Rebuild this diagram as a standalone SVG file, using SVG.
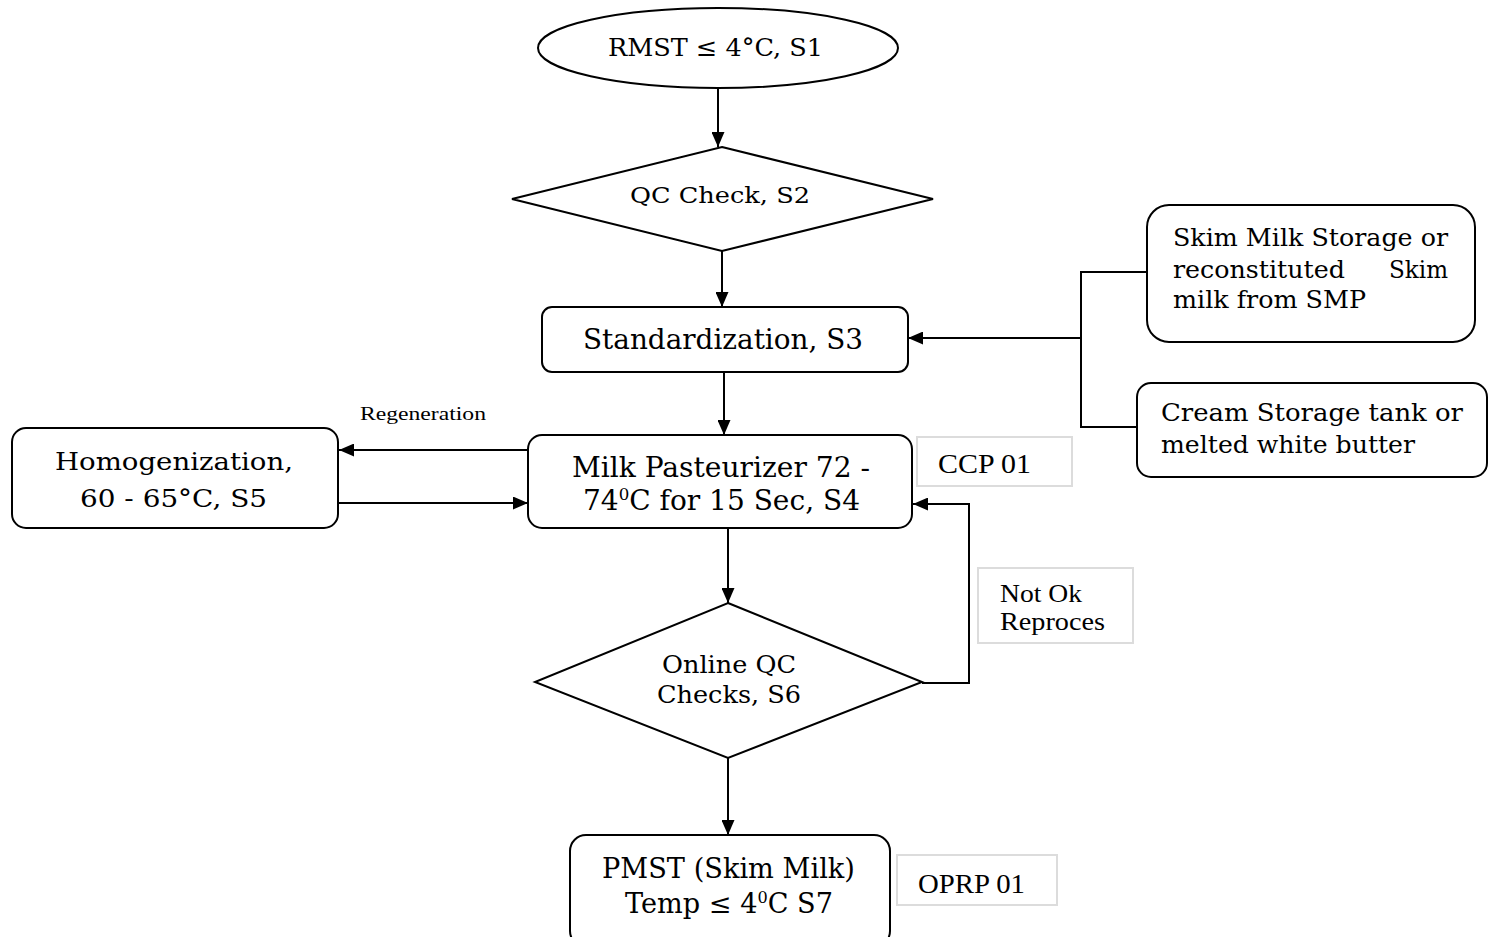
<svg xmlns="http://www.w3.org/2000/svg" width="1493" height="937" viewBox="0 0 1493 937">
<defs>
<marker id="ah" markerWidth="15" markerHeight="13" refX="15" refY="6.5" orient="auto" markerUnits="userSpaceOnUse" viewBox="0 0 15 13">
<path d="M0,0 L15,6.5 L0,13 Z" fill="#000"/>
</marker>
<style>
.n{fill:#fff;stroke:#000;stroke-width:2}
.g{fill:#fff;stroke:#dcdcdc;stroke-width:2}
.t{font-family:"DejaVu Serif","Liberation Serif",serif;font-size:25px;fill:#000}
.s{font-family:"Liberation Serif",serif;font-size:25px;fill:#000}
.c{fill:none;stroke:#000;stroke-width:2}
.a{fill:none;stroke:#000;stroke-width:2;marker-end:url(#ah)}
</style>
</defs>
<rect width="1493" height="937" fill="#fff"/>

<g id="connectors">
<line class="a" x1="718" y1="88" x2="718" y2="147"/>
<line class="a" x1="722" y1="251" x2="722" y2="307"/>
<line class="a" x1="724" y1="372" x2="724" y2="435"/>
<polyline class="c" points="1147,272 1081,272 1081,427 1137,427"/>
<line class="a" x1="1081" y1="338" x2="908" y2="338"/>
<line class="a" x1="528" y1="450" x2="339" y2="450"/>
<line class="a" x1="338" y1="503" x2="528" y2="503"/>
<line class="a" x1="728" y1="528" x2="728" y2="603"/>
<polyline class="a" points="922,683 969,683 969,504 913,504"/>
<line class="a" x1="728" y1="758" x2="728" y2="835"/>
</g>

<g id="s1">
<ellipse class="n" cx="718" cy="48" rx="180" ry="40"/>
<text class="t" x="608" y="56" textLength="215" lengthAdjust="spacingAndGlyphs">RMST ≤ 4°C, S1</text>
</g>

<g id="s2">
<polygon class="n" points="722,147 933,199 722,251 512,199"/>
<text class="t" x="630" y="203" style="font-size:23px" textLength="180" lengthAdjust="spacingAndGlyphs">QC Check, S2</text>
</g>

<g id="s3">
<rect class="n" x="542" y="307" width="366" height="65" rx="10"/>
<text class="t" x="583" y="349" style="font-size:27px" textLength="280" lengthAdjust="spacingAndGlyphs">Standardization, S3</text>
</g>

<g id="skim">
<rect class="n" x="1147" y="205" width="328" height="137" rx="22"/>
<text class="t" x="1173" y="246" textLength="275" lengthAdjust="spacingAndGlyphs">Skim Milk Storage or</text>
<text class="t" x="1173" y="278" textLength="172" lengthAdjust="spacingAndGlyphs">reconstituted</text>
<text class="t" x="1389" y="278" textLength="59" lengthAdjust="spacingAndGlyphs">Skim</text>
<text class="t" x="1173" y="308" textLength="193" lengthAdjust="spacingAndGlyphs">milk from SMP</text>
</g>

<g id="cream">
<rect class="n" x="1137" y="383" width="350" height="94" rx="14"/>
<text class="t" x="1161" y="421" textLength="302" lengthAdjust="spacingAndGlyphs">Cream Storage tank or</text>
<text class="t" x="1161" y="453" textLength="254" lengthAdjust="spacingAndGlyphs">melted white butter</text>
</g>

<g id="s4">
<rect class="n" x="528" y="435" width="384" height="93" rx="14"/>
<text class="t" x="572" y="477" style="font-size:27px" textLength="298" lengthAdjust="spacingAndGlyphs">Milk Pasteurizer 72 -</text>
<text class="t" x="583" y="510" style="font-size:27px" textLength="277" lengthAdjust="spacingAndGlyphs">74<tspan style="font-size:16px" dy="-10">0</tspan><tspan dy="10">C for 15 Sec, S4</tspan></text>
</g>

<g id="ccp">
<rect class="g" x="917" y="437" width="155" height="49"/>
<text class="s" x="938" y="473" style="font-size:27px" textLength="93" lengthAdjust="spacingAndGlyphs">CCP 01</text>
</g>

<g id="s5">
<rect class="n" x="12" y="428" width="326" height="100" rx="14"/>
<text class="t" x="55" y="470" textLength="238" lengthAdjust="spacingAndGlyphs">Homogenization,</text>
<text class="t" x="80" y="507" textLength="187" lengthAdjust="spacingAndGlyphs">60 - 65°C, S5</text>
</g>

<g id="regen">
<text class="s" x="360" y="420" style="font-size:18px" textLength="126" lengthAdjust="spacingAndGlyphs">Regeneration</text>
</g>

<g id="s6">
<polygon class="n" points="728,603 922,682 728,758 535,682"/>
<text class="t" x="662" y="673" textLength="134" lengthAdjust="spacingAndGlyphs">Online QC</text>
<text class="t" x="657" y="703" textLength="144" lengthAdjust="spacingAndGlyphs">Checks, S6</text>
</g>

<g id="notok">
<rect class="g" x="978" y="568" width="155" height="75"/>
<text class="s" x="1000" y="602" textLength="82" lengthAdjust="spacingAndGlyphs">Not Ok</text>
<text class="s" x="1000" y="630" textLength="105" lengthAdjust="spacingAndGlyphs">Reproces</text>
</g>

<g id="s7">
<rect class="n" x="570" y="835" width="320" height="112" rx="16"/>
<text class="t" x="602" y="878" style="font-size:27px" textLength="253" lengthAdjust="spacingAndGlyphs">PMST (Skim Milk)</text>
<text class="t" x="625" y="913" style="font-size:27px" textLength="208" lengthAdjust="spacingAndGlyphs">Temp ≤ 4<tspan style="font-size:16px" dy="-10">0</tspan><tspan dy="10">C S7</tspan></text>
</g>

<g id="oprp">
<rect class="g" x="897" y="855" width="160" height="50"/>
<text class="s" x="918" y="893" style="font-size:27px" textLength="107" lengthAdjust="spacingAndGlyphs">OPRP 01</text>
</g>
</svg>
